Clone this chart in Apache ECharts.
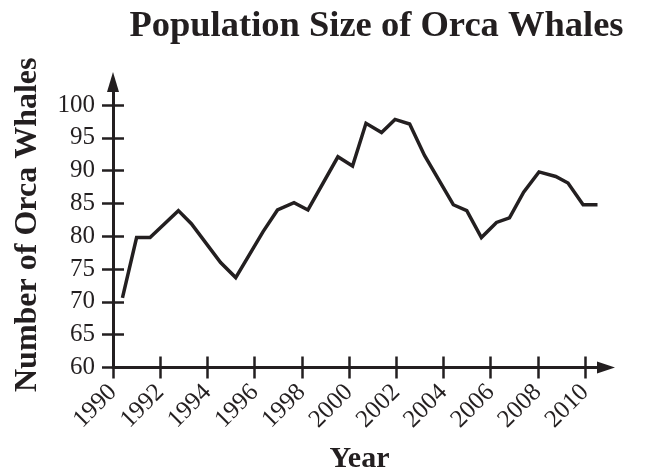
<!DOCTYPE html>
<html>
<head>
<meta charset="utf-8">
<title>Population Size of Orca Whales</title>
<script src="https://cdn.jsdelivr.net/npm/echarts@6/dist/echarts.min.js"></script>
<style>
  html, body { margin: 0; padding: 0; background: #fff; }
  #chart { width: 646px; height: 474px; }
</style>
</head>
<body>
<div id="chart"></div>
<script>
"use strict";

// data (year, number of whales)
const years = [
  1990.4, 1991.0, 1991.57, 1992.77, 1993.32, 1994.56, 1995.2, 1996.36,
  1996.97, 1997.67, 1998.26, 1999.53, 2000.15, 2000.72, 2001.38, 2001.95,
  2002.57, 2003.2, 2004.42, 2004.99, 2005.61, 2006.25, 2006.8, 2007.4,
  2008.05, 2008.76, 2009.28, 2009.92, 2010.53,
];
const whales = [
  70.6, 79.8, 79.8, 83.9, 81.9, 76.0, 73.7, 80.7,
  84.0, 85.1, 84.0, 92.1, 90.7, 97.2, 95.8, 97.8,
  97.1, 92.3, 84.8, 83.9, 79.8, 82.1, 82.8, 86.7,
  89.8, 89.1, 88.1, 84.8, 84.8,
];
const xTicks = [1990, 1992, 1994, 1996, 1998, 2000, 2002, 2004, 2006, 2008, 2010];
const yTicks = [60, 65, 70, 75, 80, 85, 90, 95, 100];

const ink = "#231f20";
const serif = "Liberation Serif";

// 轴范围（箭头多出一截）
const xMin = 1990, xMax = 2010.89;
const yMin = 60, yMax = 103.5;

const chart = echarts.init(document.getElementById("chart"));

// 主轴 + 一条只画向内刻度的副轴，拼成穿过轴线的刻度
const xAxisBase = {
  type: "value",
  position: "bottom",
  min: xMin,
  max: xMax,
  splitLine: { show: false },
};
const yAxisBase = {
  type: "value",
  position: "left",
  min: yMin,
  max: yMax,
  splitLine: { show: false },
};

chart.setOption({
  animation: false,
  title: {
    text: "Population Size of Orca Whales",
    left: 376.5,
    top: 8,
    padding: 0,
    textAlign: "center",
    textStyle: {
      fontFamily: serif,
      fontWeight: "bold",
      fontSize: 36.5,
      color: ink,
    },
  },
  grid: {
    left: 113,
    right: 40,
    top: 82,
    bottom: 106.5,
    outerBoundsMode: "none",
  },
  xAxis: [
    Object.assign({}, xAxisBase, {
      name: "Year",
      nameLocation: "middle",
      nameGap: 77,
      nameTextStyle: {
        fontFamily: serif,
        fontWeight: "bold",
        fontSize: 30,
        color: ink,
      },
      axisLine: {
        show: true,
        onZero: false,
        symbol: ["none", "triangle"],
        symbolSize: [12, 18],
        lineStyle: { color: ink, width: 3 },
      },
      axisTick: {
        show: true,
        length: 11,
        customValues: xTicks,
        lineStyle: { color: ink, width: 2.5 },
      },
      axisLabel: {
        show: true,
        rotate: 45,
        margin: 21,
        customValues: xTicks,
        formatter: (v) => String(v), // 年份不要千分位
        fontFamily: serif,
        fontSize: 25,
        color: ink,
      },
    }),
    Object.assign({}, xAxisBase, {
      axisLine: { show: false, onZero: false },
      axisTick: {
        show: true,
        inside: true,
        length: 11,
        customValues: xTicks,
        lineStyle: { color: ink, width: 2.5 },
      },
      axisLabel: { show: false },
    }),
  ],
  yAxis: [
    Object.assign({}, yAxisBase, {
      name: "Number of Orca Whales",
      nameLocation: "middle",
      nameGap: 69,
      nameRotate: 90,
      nameTextStyle: {
        fontFamily: serif,
        fontWeight: "bold",
        fontSize: 32,
        color: ink,
      },
      axisLine: {
        show: true,
        onZero: false,
        symbol: ["none", "triangle"],
        symbolSize: [12, 20],
        lineStyle: { color: ink, width: 3 },
      },
      axisTick: {
        show: true,
        length: 11,
        customValues: yTicks,
        lineStyle: { color: ink, width: 2.5 },
      },
      axisLabel: {
        show: true,
        margin: 18,
        customValues: yTicks,
        fontFamily: serif,
        fontSize: 25,
        color: ink,
      },
    }),
    Object.assign({}, yAxisBase, {
      axisLine: { show: false, onZero: false },
      axisTick: {
        show: true,
        inside: true,
        length: 11,
        customValues: yTicks,
        lineStyle: { color: ink, width: 2.5 },
      },
      axisLabel: { show: false },
    }),
  ],
  series: [
    {
      name: "Orca whales",
      type: "line",
      xAxisIndex: 0,
      yAxisIndex: 0,
      showSymbol: false,
      silent: true,
      lineStyle: { color: ink, width: 3.5, join: "miter" },
      data: years.map((y, i) => [y, whales[i]]),
    },
  ],
});
</script>
</body>
</html>
